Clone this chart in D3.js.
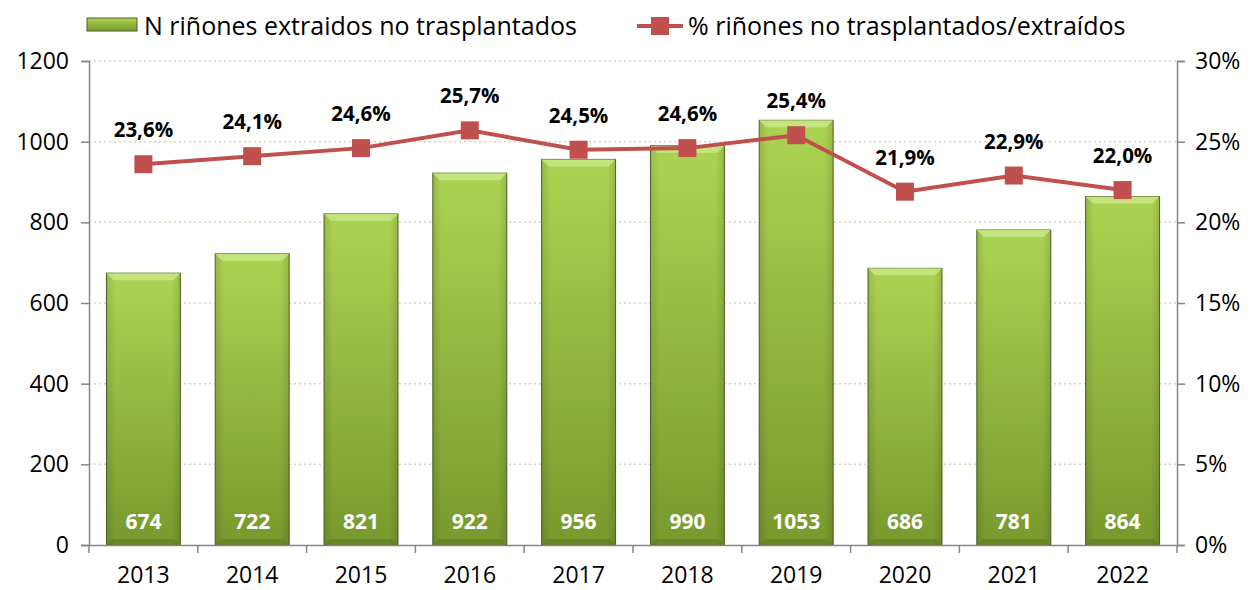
<!DOCTYPE html>
<html>
<head>
<meta charset="utf-8">
<script src="https://cdn.jsdelivr.net/npm/d3@7"></script>
<style>
  body { margin: 0; background: #fff; }
  svg text { font-family: "Open Sans", "Liberation Sans", sans-serif; }
</style>
</head>
<body>
<div id="chart"></div>
<script>
const years = ["2013","2014","2015","2016","2017","2018","2019","2020","2021","2022"];
const kidneys = [674, 722, 821, 922, 956, 990, 1053, 686, 781, 864];
const pct = [23.6, 24.1, 24.6, 25.7, 24.5, 24.6, 25.4, 21.9, 22.9, 22.0];
const leftTicks = [0, 200, 400, 600, 800, 1000, 1200];
const rightTicks = [0, 5, 10, 15, 20, 25, 30];

var W = 1251, H = 590,
    margin = {top: 61, right: 74, bottom: 45, left: 89},
    width = W - margin.left - margin.right,
    height = H - margin.top - margin.bottom;

var svg = d3.select("#chart").append("svg")
    .attr("width", W).attr("height", H);

var defs = svg.append("defs");
var gv = defs.append("linearGradient").attr("id", "barGrad")
    .attr("x1", 0).attr("y1", 0).attr("x2", 0).attr("y2", 1);
gv.append("stop").attr("offset", "0%").attr("stop-color", "#acd453");
gv.append("stop").attr("offset", "100%").attr("stop-color", "#78992d");
var gh = defs.append("linearGradient").attr("id", "sideGrad")
    .attr("x1", 0).attr("y1", 0).attr("x2", 1).attr("y2", 0);
gh.append("stop").attr("offset", "0%").attr("stop-color", "#000").attr("stop-opacity", 0.12);
gh.append("stop").attr("offset", "12%").attr("stop-color", "#000").attr("stop-opacity", 0);
gh.append("stop").attr("offset", "88%").attr("stop-color", "#000").attr("stop-opacity", 0);
gh.append("stop").attr("offset", "100%").attr("stop-color", "#000").attr("stop-opacity", 0.12);

var g = svg.append("g").attr("transform", "translate(" + margin.left + "," + margin.top + ")");

var x = d3.scaleBand().domain(years).range([0, width]).paddingInner(0.32).paddingOuter(0.16);
var y = d3.scaleLinear().domain([0, 1200]).range([height, 0]);
var y2 = d3.scaleLinear().domain([0, 30]).range([height, 0]);

// gridlines
g.selectAll(".grid").data(leftTicks.slice(1)).enter().append("line")
    .attr("x1", 0).attr("x2", width)
    .attr("y1", d => y(d)).attr("y2", d => y(d))
    .style("stroke", "#d8d3b8").style("stroke-width", 1.5)
    .style("stroke-dasharray", "2,3");

// bars
var bars = g.selectAll(".bar").data(years).enter().append("g").attr("class", "bar");
bars.append("rect")
    .attr("x", d => x(d)).attr("width", x.bandwidth())
    .attr("y", (d, i) => y(kidneys[i])).attr("height", (d, i) => height - y(kidneys[i]))
    .style("fill", "url(#barGrad)").style("stroke", "#4f6228").style("stroke-width", 1);
bars.append("rect")
    .attr("x", d => x(d)).attr("width", x.bandwidth())
    .attr("y", (d, i) => y(kidneys[i])).attr("height", (d, i) => height - y(kidneys[i]))
    .style("fill", "url(#sideGrad)");
// top bevel
bars.append("path")
    .attr("d", function(d, i) {
      var x0 = x(d), x1 = x(d) + x.bandwidth(), t = y(kidneys[i]), b = 7;
      return "M" + x0 + "," + t + "L" + x1 + "," + t + "L" + (x1 - b) + "," + (t + b) + "L" + (x0 + b) + "," + (t + b) + "Z";
    })
    .style("fill", "#c8e684").style("opacity", 0.85);
// bottom bevel
bars.append("path")
    .attr("d", function(d) {
      var x0 = x(d), x1 = x(d) + x.bandwidth(), t = height, b = 6;
      return "M" + x0 + "," + t + "L" + x1 + "," + t + "L" + (x1 - b) + "," + (t - b) + "L" + (x0 + b) + "," + (t - b) + "Z";
    })
    .style("fill", "#5f7c22").style("opacity", 0.6);
bars.append("text")
    .attr("x", d => x(d) + x.bandwidth() / 2).attr("y", height - 16)
    .attr("text-anchor", "middle")
    .style("fill", "#fff").style("font-weight", "bold").style("font-size", "21px")
    .text((d, i) => kidneys[i]);

// axes
var axisColor = "#868686";
var leftAxis = g.append("g").call(d3.axisLeft(y).tickValues(leftTicks).tickSize(8).tickPadding(12).tickFormat(d3.format("d")));
var rightAxis = g.append("g").attr("transform", "translate(" + width + ",0)")
    .call(d3.axisRight(y2).tickValues(rightTicks).tickSize(8).tickPadding(10).tickFormat(d => d + "%"));
var xAxis = g.append("g").attr("transform", "translate(0," + height + ")")
    .call(d3.axisBottom(x).tickSize(0).tickPadding(22));
// category separators on x axis
xAxis.selectAll(".sep").data(d3.range(years.length + 1)).enter().append("line")
    .attr("x1", i => i * width / years.length).attr("x2", i => i * width / years.length)
    .attr("y1", 0).attr("y2", 8)
    .style("stroke", axisColor).style("stroke-width", 1.5);
[leftAxis, rightAxis, xAxis].forEach(function(a) {
  a.selectAll("path.domain, .tick line").style("stroke", axisColor).style("stroke-width", 1.5);
  a.selectAll("text").style("font-size", "23px").style("fill", "#000");
});

// line series
var line = d3.line()
    .x((d, i) => x(years[i]) + x.bandwidth() / 2)
    .y(d => y2(d));
g.append("path").datum(pct)
    .attr("d", line)
    .style("fill", "none").style("stroke", "#c0504d").style("stroke-width", 4);
g.selectAll(".mk").data(pct).enter().append("rect")
    .attr("x", (d, i) => x(years[i]) + x.bandwidth() / 2 - 9)
    .attr("y", d => y2(d) - 9)
    .attr("width", 18).attr("height", 18)
    .style("fill", "#c0504d");
g.selectAll(".pl").data(pct).enter().append("text")
    .attr("x", (d, i) => x(years[i]) + x.bandwidth() / 2)
    .attr("y", d => y2(d) - 27)
    .attr("text-anchor", "middle")
    .style("font-weight", "bold").style("font-size", "20.5px")
    .text(d => d.toFixed(1).replace(".", ",") + "%");

// legend
var lg = svg.append("g");
lg.append("rect").attr("x", 87).attr("y", 18).attr("width", 50).attr("height", 13)
    .style("fill", "url(#barGrad)").style("stroke", "#4f6228");
lg.append("text").attr("x", 144).attr("y", 35).style("font-size", "25px")
    .text("N riñones extraidos no trasplantados");
lg.append("line").attr("x1", 637).attr("x2", 683).attr("y1", 26).attr("y2", 26)
    .style("stroke", "#c0504d").style("stroke-width", 4);
lg.append("rect").attr("x", 651).attr("y", 17).attr("width", 18).attr("height", 18)
    .style("fill", "#c0504d");
lg.append("text").attr("x", 688).attr("y", 35).style("font-size", "25px")
    .text("% riñones no trasplantados/extraídos");
</script>
</body>
</html>
